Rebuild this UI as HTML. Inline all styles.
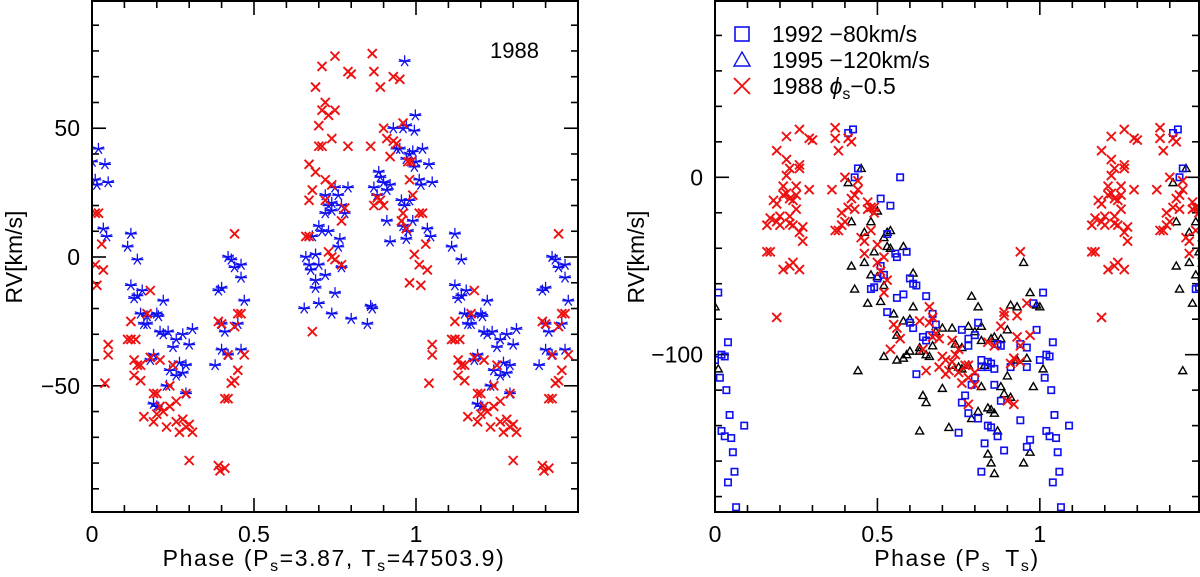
<!DOCTYPE html>
<html><head><meta charset="utf-8"><style>
html,body{margin:0;padding:0;background:#fff;}
svg{display:block;font-family:"Liberation Sans",sans-serif;}
</style></head><body>
<svg id="chart" width="1200" height="577" viewBox="0 0 1200 577" xmlns="http://www.w3.org/2000/svg">
<g id="left"></g>
<g id="right"></g>
</svg>
<script>
const L_red=[[0.01,17],[0.02,17],[0.03,5],[0.035,-5],[0.01,-3],[0.015,-11],[0.05,-34],[0.05,-38],[0.04,-49],[0.11,-32],[0.12,-32],[0.12,-25],[0.13,-40],[0.135,-32],[0.14,-42],[0.13,-46],[0.15,-42],[0.15,-48],[0.18,-13],[0.17,-22],[0.18,-39],[0.16,-62],[0.19,-53],[0.2,-53],[0.19,-64],[0.21,-40],[0.21,-58],[0.2,-61],[0.23,-66],[0.22,-60],[0.24,-58],[0.25,-42],[0.24,-50],[0.26,-56],[0.27,-68],[0.26,-64],[0.28,-63],[0.29,-66],[0.3,-65],[0.31,-68],[0.29,-53],[0.3,-79],[0.39,-81],[0.395,-83],[0.41,-82],[0.39,-25],[0.4,-26],[0.42,-55],[0.41,-55],[0.42,-38],[0.43,-49],[0.44,-48],[0.45,-44],[0.44,-27],[0.45,-22],[0.46,-22],[0.47,-38],[0.44,9],[0.66,8],[0.67,8],[0.67,22],[0.68,26],[0.67,36],[0.69,33],[0.69,66],[0.7,51],[0.71,57],[0.72,60],[0.71,74],[0.7,43],[0.71,43],[0.73,55],[0.74,46],[0.75,78],[0.75,57],[0.74,28],[0.72,30],[0.73,2],[0.74,0],[0.75,-1],[0.77,-3],[0.77,14],[0.78,19],[0.79,72],[0.8,71],[0.79,43],[0.68,-29],[0.72,22],[0.86,43],[0.865,79],[0.87,72],[0.89,66],[0.87,20],[0.88,23],[0.89,22],[0.9,20],[0.9,50],[0.91,46],[0.92,39],[0.93,45],[0.94,44],[0.93,70],[0.95,69],[0.96,52],[0.955,14],[0.96,17],[0.97,11],[0.975,37],[0.98,30],[0.985,37],[0.98,-10],[0.99,24],[0.995,1]];
const L_blue=[[0.0,37],[0.01,30],[0.015,28],[0.02,42],[0.04,36],[0.05,29],[0.035,11],[0.045,8],[0.11,4],[0.12,9],[0.14,-1],[0.12,-11],[0.13,-16],[0.14,-15],[0.155,-13],[0.15,-22],[0.16,-26],[0.17,-26],[0.17,-23],[0.2,-22],[0.205,-23],[0.22,-17],[0.21,-29],[0.22,-30],[0.235,-29],[0.25,-35],[0.26,-32],[0.28,-30],[0.3,-34],[0.31,-28],[0.24,-44],[0.26,-46],[0.27,-41],[0.28,-45],[0.29,-42],[0.23,-50],[0.29,-53],[0.19,-57],[0.2,-58],[0.18,-40],[0.19,-38],[0.38,-42],[0.39,-13],[0.4,-12],[0.4,-26],[0.41,-29],[0.4,-36],[0.42,-38],[0.42,0],[0.43,-1],[0.44,-4],[0.46,-3],[0.46,-8],[0.47,-17],[0.45,-26],[0.46,-36],[0.655,-20],[0.66,0],[0.67,-3],[0.675,-5],[0.69,-9],[0.69,-12],[0.7,-3],[0.69,1],[0.7,12],[0.71,10],[0.72,17],[0.72,24],[0.73,20],[0.74,21],[0.75,27],[0.74,18],[0.76,24],[0.77,20],[0.78,17],[0.79,27],[0.72,-7],[0.7,-18],[0.74,-22],[0.75,-14],[0.76,4],[0.765,7],[0.77,-4],[0.8,-24],[0.68,8],[0.73,10],[0.85,-26],[0.86,-19],[0.865,-20],[0.87,27],[0.88,24],[0.885,33],[0.89,31],[0.9,29],[0.91,26],[0.91,14],[0.92,6],[0.93,50],[0.94,42],[0.95,42],[0.96,50],[0.965,76],[0.97,51],[0.98,40],[0.99,41],[0.998,55],[0.995,49],[0.97,38],[0.955,22],[0.965,20],[0.98,22],[0.975,10],[0.97,7],[0.99,14],[0.995,35],[0.92,28],[0.96,12]];
const R_red=[[0.16,-42],[0.17,-42],[0.19,-79],[0.16,-27],[0.17,-23],[0.18,-13],[0.19,-25],[0.19,-15],[0.2,-22],[0.2,-27],[0.21,-10],[0.21,-5],[0.22,-9],[0.22,1],[0.23,-22],[0.23,-12],[0.24,-13],[0.25,-18],[0.25,-10],[0.23,-26],[0.24,-27],[0.26,-31],[0.27,-28],[0.27,-36],[0.21,-52],[0.23,-50],[0.24,-48],[0.26,-52],[0.19,15],[0.22,23],[0.22,10],[0.23,5],[0.25,-5],[0.26,7],[0.26,5],[0.26,27],[0.29,22],[0.3,21],[0.29,-7],[0.36,-7],[0.37,28],[0.37,22],[0.38,15],[0.41,22],[0.42,20],[0.43,-10],[0.44,-7],[0.44,-2],[0.4,0],[0.39,-20],[0.39,-27],[0.38,-30],[0.37,-30],[0.4,-25],[0.41,-17],[0.42,-12],[0.43,-18],[0.45,-34],[0.46,-36],[0.47,-14],[0.47,-18],[0.48,-17],[0.49,-17],[0.49,-20],[0.48,-30],[0.46,-43],[0.5,-38],[0.5,-48],[0.52,-45],[0.51,-53],[0.53,-58],[0.52,-65],[0.55,-83],[0.56,-85],[0.57,-91],[0.54,-97],[0.63,-81],[0.66,-73],[0.67,-79],[0.66,-82],[0.67,-90],[0.64,-97],[0.65,-109],[0.68,-88],[0.69,-91],[0.7,-101],[0.69,-107],[0.71,-103],[0.72,-109],[0.71,-111],[0.73,-104],[0.73,-92],[0.74,-100],[0.75,-110],[0.76,-116],[0.77,-106],[0.78,-113],[0.78,-106],[0.8,-117],[0.78,-128],[0.84,-93],[0.86,-95],[0.88,-84],[0.89,-76],[0.89,-78],[0.93,-78],[0.94,-42],[0.93,-90],[0.92,-102],[0.91,-105],[0.94,-95],[0.96,-71],[0.97,-89],[0.94,-104],[0.9,-126],[0.92,-128],[0.8,-110],[0.75,-97]];
const R_sq=[[0.0,-103],[0.02,-100],[0.03,-101],[0.01,-65],[0.04,-93],[0.015,-113],[0.035,-120],[0.045,-134],[0.02,-143],[0.03,-146],[0.05,-147],[0.055,-155],[0.06,-166],[0.04,-172],[0.065,-186],[0.09,-140],[0.41,25],[0.425,27],[0.43,0],[0.44,5],[0.51,-12],[0.54,-16],[0.57,0],[0.53,-32],[0.555,-43],[0.56,-45],[0.59,-42],[0.51,-50],[0.52,-55],[0.5,-57],[0.49,-62],[0.48,-63],[0.6,-57],[0.61,-60],[0.62,-61],[0.56,-68],[0.58,-66],[0.53,-76],[0.6,-82],[0.61,-85],[0.65,-67],[0.67,-77],[0.68,-83],[0.64,-90],[0.66,-89],[0.65,-92],[0.62,-111],[0.76,-86],[0.78,-95],[0.78,-91],[0.8,-89],[0.81,-82],[0.82,-103],[0.82,-107],[0.84,-104],[0.85,-105],[0.84,-107],[0.86,-108],[0.87,-94],[0.88,-95],[0.8,-113],[0.79,-117],[0.77,-123],[0.76,-127],[0.78,-133],[0.81,-136],[0.84,-140],[0.85,-141],[0.87,-146],[0.75,-144],[0.83,-150],[0.89,-154],[0.82,-166],[0.86,-117],[0.88,-126],[0.91,-107],[0.94,-94],[0.96,-96],[0.96,-107],[0.98,-71],[0.94,-137],[0.96,-152],[0.97,-148],[0.99,-86]];
const R_tri=[[0.0,-73],[0.01,-108],[0.41,-3],[0.45,5],[0.42,-25],[0.5,-19],[0.48,-25],[0.46,-31],[0.52,-34],[0.53,-31],[0.54,-30],[0.49,-42],[0.53,-39],[0.54,-40],[0.58,-39],[0.42,-50],[0.46,-48],[0.48,-55],[0.5,-56],[0.52,-61],[0.61,-54],[0.43,-63],[0.47,-71],[0.51,-70],[0.55,-77],[0.58,-81],[0.6,-80],[0.61,-73],[0.56,-89],[0.52,-101],[0.56,-103],[0.58,-102],[0.59,-100],[0.6,-98],[0.63,-96],[0.63,-98],[0.65,-100],[0.66,-101],[0.67,-95],[0.68,-87],[0.7,-85],[0.73,-85],[0.74,-94],[0.76,-96],[0.78,-84],[0.8,-87],[0.82,-84],[0.82,-92],[0.85,-91],[0.86,-90],[0.88,-91],[0.9,-86],[0.93,-73],[0.95,-48],[0.97,-65],[0.99,-72],[0.91,-72],[0.79,-67],[0.81,-73],[0.44,-109],[0.64,-123],[0.65,-127],[0.63,-143],[0.7,-119],[0.72,-141],[0.73,-106],[0.75,-107],[0.76,-108],[0.78,-106],[0.79,-136],[0.81,-132],[0.82,-118],[0.84,-130],[0.85,-131],[0.86,-133],[0.88,-118],[0.89,-122],[0.9,-112],[0.91,-124],[0.87,-143],[0.84,-156],[0.85,-161],[0.86,-167],[0.95,-161],[0.97,-155],[0.98,-118],[0.93,-103],[0.96,-102],[0.83,-106]];
const L_yticks=[50,0,-50];
const R_yticks=[0,-100];
const X_ticks=[0,0.5,1];
const X_tick_labels=["0","0.5","1"];

const NS="http://www.w3.org/2000/svg";
function mk(tag,attrs,parent){const e=document.createElementNS(NS,tag);for(const k in attrs)e.setAttribute(k,attrs[k]);parent.appendChild(e);return e;}
function panel(g,P){
  const sx=v=>P.x0+(v-P.xmin)/(P.xmax-P.xmin)*(P.x1-P.x0);
  const sy=v=>P.y1-(v-P.ymin)/(P.ymax-P.ymin)*(P.y1-P.y0);
  const defs={stroke:"#000","stroke-width":1.6,fill:"none"};
  const tk=mk("g",{},g);
  
  
  for(let i=0;i<=Math.round(P.xmax/0.1);i++){const v=i*0.1;const X=sx(v);const major=(i%5===0);const len=major?14:7;
    mk("line",{x1:X,y1:P.y1,x2:X,y2:P.y1-len,...defs},tk);mk("line",{x1:X,y1:P.y0,x2:X,y2:P.y0+len,...defs},tk);}
  const ys=Math.ceil(P.ymin/P.ymin_step)*P.ymin_step;
  for(let v=ys;v<=P.ymax;v+=P.ymin_step){const Y=sy(v);const major=(Math.abs(v%P.ymaj_step)<1e-6);const len=major?14:7;
    mk("line",{x1:P.x0,y1:Y,x2:P.x0+len,y2:Y,...defs},tk);mk("line",{x1:P.x1,y1:Y,x2:P.x1-len,y2:Y,...defs},tk);}
  X_ticks.forEach((v,i)=>{const t=mk("text",{x:sx(v),y:P.y1+30,"font-size":23,"text-anchor":"middle"},g);t.textContent=X_tick_labels[i];
    
    });
  P.yt.forEach(v=>{const t=mk("text",{x:P.x0-12,y:sy(v)+8,"font-size":23,"text-anchor":"end"},g);t.textContent=(v<0?"\u2212"+(-v):String(v));
    
    });
  const clipId="clip"+P.id;
  const cp=mk("clipPath",{id:clipId},g);mk("rect",{x:P.x0,y:P.y0,width:P.x1-P.x0,height:P.y1-P.y0},cp);
  const mg=mk("g",{"clip-path":"url(#"+clipId+")"},g);
  
  
  P.series.forEach(S=>{
    const sg=mk("g",{},mg);
    
    
    const pts=[];S.data.forEach(d=>{pts.push(d);if(d[0]+1<=P.xmax+0.02)pts.push([d[0]+1,d[1]]);});
    pts.forEach(d=>{const X=sx(d[0]),Y=sy(d[1]);const m=drawMarker(sg,S.shape,X,Y,S.color,S.size);
      
      });
  });
  const fr=mk("rect",{x:P.x0,y:P.y0,width:P.x1-P.x0,height:P.y1-P.y0,fill:"none",stroke:"#000","stroke-width":2},g);
  
  
  return {sx,sy};
}
function drawMarker(g,shape,X,Y,c,s){
  let e;
  if(shape==="x"){e=mk("path",{d:`M${X-s},${Y-s}L${X+s},${Y+s}M${X-s},${Y+s}L${X+s},${Y-s}`,stroke:c,"stroke-width":1.9,fill:"none"},g);}
  else if(shape==="star"){let d="";for(let k=0;k<5;k++){const a=-Math.PI/2+k*2*Math.PI/5;d+=`M${X},${Y}L${X+s*Math.cos(a)},${Y+s*Math.sin(a)}`;}
    d+=`M${X-s},${Y}L${X+s},${Y}`;e=mk("path",{d:d,stroke:c,"stroke-width":1.3,fill:"none"},g);}
  else if(shape==="sq"){e=mk("rect",{x:X-s,y:Y-s,width:2*s,height:2*s,stroke:c,"stroke-width":1.6,fill:"none"},g);}
  else {e=mk("path",{d:`M${X},${Y-s}L${X+s},${Y+s*0.75}L${X-s},${Y+s*0.75}Z`,stroke:c,"stroke-width":1.4,fill:"none"},g);}
  return e;
}
const gl=document.getElementById("left"), gr=document.getElementById("right");
panel(gl,{id:"L",x0:92,x1:578,y0:1,y1:512,xmin:0,xmax:1.5,ymin:-99,ymax:99.4,ymin_step:10,ymaj_step:50,yt:L_yticks,
  series:[{name:"series-1988-blue",data:L_blue,shape:"star",color:"#1010ee",size:6},{name:"series-1988-red",data:L_red,shape:"x",color:"#ee1111",size:4.5}]});
panel(gr,{id:"R",x0:715,x1:1199,y0:1,y1:512,xmin:0,xmax:1.49,ymin:-188.7,ymax:99.4,ymin_step:20,ymaj_step:100,yt:R_yticks,
  series:[{name:"series-1995",data:R_tri,shape:"tri",color:"#000",size:4},{name:"series-1992",data:R_sq,shape:"sq",color:"#1010ee",size:3.2},{name:"series-1988-shifted",data:R_red,shape:"x",color:"#ee1111",size:4.5}]});
function txt(g,x,y,s,html,attrs,name){const t=mk("text",Object.assign({x:x,y:y,"font-size":s},attrs||{}),g);t.innerHTML=html;
  
  return t;}
txt(gl,490,58,22,"1988",{},"year-label");
txt(gl,334,566,23,'Phase (P<tspan font-size="16" dy="5">s</tspan><tspan dy="-5">=3.87, T</tspan><tspan font-size="16" dy="5">s</tspan><tspan dy="-5">=47503.9)</tspan>',{"text-anchor":"middle","letter-spacing":"1.6"},"x-axis-title");
txt(gl,0,0,23,"RV[km/s]",{transform:"translate(22,257) rotate(-90)","text-anchor":"middle"},"y-axis-title");
txt(gr,957,566,23,'Phase (P<tspan font-size="16" dy="5">s</tspan><tspan dy="-5" dx="14">T</tspan><tspan font-size="16" dy="5">s</tspan><tspan dy="-5">)</tspan>',{"text-anchor":"middle","letter-spacing":"1.6"},"x-axis-title-right");
txt(gr,0,0,23,"RV[km/s]",{transform:"translate(644,257) rotate(-90)","text-anchor":"middle"},"y-axis-title-right");
const lg=mk("g",{},gr);


const le=[["sq","#1010ee",34,"1992 \u221280km/s"],["tri","#1010ee",60,"1995 \u2212120km/s"],["x","#ee1111",86,'1988 <tspan font-style="italic">\u03d5</tspan><tspan font-size="16" dy="5">s</tspan><tspan dy="-5">\u22120.5</tspan>']];
le.forEach(r=>{const m=drawMarker(lg,r[0],742,r[2],r[1],r[0]==="sq"?7:8);
  
  
  txt(lg,772,r[2]+8,23,r[3],{},"legend-entry");});
</script>
</body></html>
